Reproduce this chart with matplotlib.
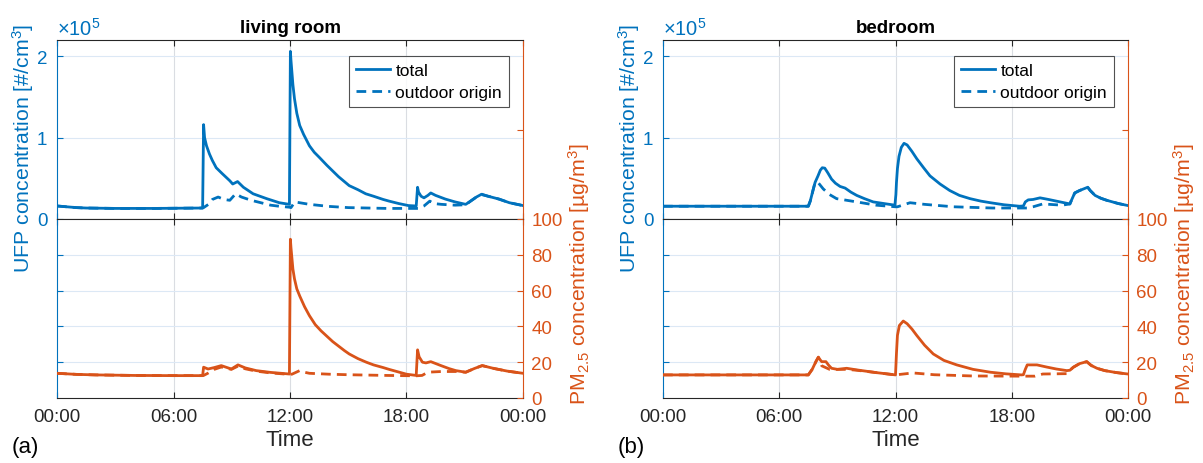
import matplotlib
matplotlib.use('Agg')
import matplotlib.pyplot as plt

plt.rcParams['font.family'] = ['Liberation Sans', 'DejaVu Sans']
plt.rcParams['mathtext.fontset'] = 'custom'
plt.rcParams['mathtext.rm'] = 'Liberation Sans'
plt.rcParams['mathtext.it'] = 'Liberation Sans'

BLUE = '#0072BD'
ORANGE = '#D95319'

# ---- data (hours of day, UFP in #/cm3, PM2.5 in ug/m3) ----
lr_ufp_t = [0, 0.5, 1.0, 1.5, 3, 5, 7.5, 7.55, 7.6, 7.7, 7.85, 8.0, 8.2, 8.5, 8.9, 9.05, 9.3, 9.6,
            10.1, 10.8, 11.45, 11.97, 12.02, 12.05, 12.15, 12.23, 12.35, 12.5, 12.7, 13.0, 13.25,
            13.5, 13.9, 14.2, 14.5, 14.8, 15.05, 15.5, 15.9, 16.3, 16.8, 17.1, 17.6, 18.1, 18.5,
            18.57, 18.62, 18.75, 18.9, 19.1, 19.25, 19.5, 20.0, 20.5, 21.05, 21.3, 21.6, 21.87,
            22.2, 22.76, 23.3, 24]
lr_ufp_total = [16000, 15000, 14000, 13500, 13000, 13000, 13500, 116000, 100000, 90000, 80000,
                72000, 63000, 56000, 47000, 43000, 46000, 39000, 31000, 25000, 20000, 18000,
                206000, 195000, 165000, 148000, 130000, 115000, 104000, 90000, 82000, 76000,
                66000, 59000, 52000, 46000, 41000, 36000, 31000, 28000, 24000, 22000, 19000,
                16500, 16000, 39000, 33000, 28000, 26000, 29000, 32000, 29000, 24500, 21000,
                18000, 22000, 27000, 30500, 28000, 24500, 20000, 16500]
lr_ufp_out_t = [0, 0.5, 1.0, 1.5, 3, 5, 7.5, 7.55, 7.8, 8.0, 8.3, 8.6, 8.9, 9.2, 9.5, 10.0, 10.5,
                11.0, 11.5, 11.97, 12.05, 12.25, 12.5, 13.0, 14.0, 15.0, 16.0, 17.0, 18.6, 18.9,
                19.2, 19.4, 19.8, 20.5, 21.05, 21.3, 21.6, 21.87, 22.2, 22.76, 23.3, 24]
lr_ufp_out = [16000, 15000, 14000, 13500, 13000, 13000, 13500, 14000, 18000, 24000, 27000, 24000,
              23000, 31000, 27000, 23000, 20000, 17000, 15500, 14500, 14000, 21000, 20000, 18000,
              15500, 14000, 13500, 13000, 13000, 16000, 22000, 19000, 18000, 17000, 17500, 22000,
              27000, 30000, 28000, 24500, 20000, 16500]

lr_pm_t = [0, 1, 2, 4, 6, 7.5, 7.55, 7.78, 8.1, 8.46, 8.98, 9.32, 9.7, 10.26, 11.0, 11.97, 12.02,
           12.05, 12.15, 12.23, 12.35, 12.5, 12.75, 13.0, 13.3, 13.6, 13.87, 14.2, 14.5, 14.8,
           15.05, 15.5, 15.93, 16.3, 16.8, 17.1, 17.6, 18.0, 18.5, 18.57, 18.65, 18.82, 19.0,
           19.25, 19.8, 20.2, 20.54, 21.05, 21.5, 21.9, 22.5, 23.2, 24]
lr_pm_total = [13.8, 13.2, 12.9, 12.6, 12.5, 12.5, 17.2, 16.2, 17.0, 18.1, 16.2, 18.5, 16.8, 15.3,
               14.3, 13.4, 88.7, 84.0, 72.0, 66.6, 61.0, 57.0, 51.0, 46.0, 41.0, 37.5, 34.8, 31.5,
               29.0, 26.5, 24.6, 22.0, 20.0, 18.5, 17.0, 16.0, 14.5, 13.3, 12.6, 26.9, 23.0, 20.0,
               19.6, 20.3, 18.0, 16.4, 15.3, 14.4, 16.5, 18.1, 16.5, 15.0, 13.8]
lr_pm_out_t = [0, 1, 2, 4, 6, 7.5, 7.55, 7.8, 8.1, 8.46, 8.98, 9.32, 9.7, 10.26, 11.0, 11.97, 12.1,
               12.5, 12.7, 13.0, 14.0, 15.0, 17.0, 18.5, 18.8, 19.0, 19.25, 19.8, 20.54, 21.05,
               21.5, 21.9, 22.5, 23.2, 24]
lr_pm_out = [13.8, 13.2, 12.9, 12.6, 12.5, 12.5, 12.6, 14.0, 16.0, 17.3, 16.0, 17.8, 16.3, 15.0,
             14.0, 13.2, 13.3, 15.3, 14.5, 13.8, 13.3, 13.0, 12.6, 12.4, 12.6, 13.8, 14.5, 14.8,
             14.8, 14.4, 16.5, 18.1, 16.5, 15.0, 13.8]

br_ufp_t = [0, 7.5, 7.6, 7.75, 7.85, 8.0, 8.12, 8.22, 8.35, 8.5, 8.7, 8.9, 9.14, 9.4, 9.7, 10.0,
            10.4, 10.85, 11.4, 11.97, 12.02, 12.05, 12.1, 12.18, 12.3, 12.44, 12.6, 12.85, 13.1,
            13.45, 13.78, 14.3, 14.8, 15.3, 15.85, 16.4, 16.9, 17.6, 18.4, 18.6, 18.7, 18.85,
            19.1, 19.46, 19.9, 20.5, 21.0, 21.1, 21.25, 21.5, 21.92, 22.05, 22.3, 22.6, 22.9,
            23.5, 24]
br_ufp_total = [15700, 15700, 22000, 36000, 45000, 53000, 60000, 63000, 62500, 57000, 49000,
                44000, 40000, 38000, 33000, 29000, 25000, 21000, 19000, 17000, 30000, 45000,
                62000, 77000, 88000, 93000, 91000, 83000, 74000, 63000, 53000, 43000, 35000,
                29000, 25000, 22000, 20000, 17500, 15700, 16000, 21000, 23500, 24000, 26000,
                24000, 21000, 18500, 24000, 32000, 35000, 39000, 35000, 29000, 25500, 23000,
                19000, 16500]
br_ufp_out_t = [0, 7.5, 7.6, 7.75, 7.85, 8.0, 8.27, 8.6, 8.96, 10.0, 11.0, 12.0, 12.1, 12.75,
                13.5, 15.0, 17.0, 18.8, 19.1, 19.6, 20.6, 21.0, 21.1, 21.25, 21.5, 21.92, 22.05,
                22.3, 22.6, 22.9, 23.5, 24]
br_ufp_out = [15700, 15700, 22000, 36000, 45000, 45000, 37000, 30000, 25000, 21000, 17000, 15000,
              15000, 20000, 18000, 15000, 13500, 13500, 15000, 18500, 17000, 18500, 24000, 32000,
              35000, 39000, 35000, 29000, 25500, 23000, 19000, 16500]

br_pm_t = [0, 7.5, 7.7, 7.9, 8.02, 8.1, 8.19, 8.41, 8.55, 8.7, 9.0, 9.48, 10.0, 11.0, 12.0, 12.05,
           12.1, 12.2, 12.4, 12.6, 12.85, 13.1, 13.5, 13.95, 14.5, 15.16, 16.0, 16.9, 17.7, 18.5,
           18.6, 18.7, 18.8, 19.3, 19.8, 20.3, 20.84, 21.0, 21.18, 21.5, 21.87, 22.1, 22.4, 22.8,
           23.4, 24]
br_pm_total = [12.9, 12.9, 16.0, 20.5, 22.8, 21.5, 20.3, 20.3, 18.3, 16.6, 16.0, 16.6, 15.7, 14.2,
               12.9, 25.0, 35.0, 40.5, 43.0, 41.5, 38.5, 34.9, 29.5, 24.6, 21.0, 18.5, 16.0, 14.4,
               13.5, 12.9, 13.0, 16.0, 18.5, 18.5, 17.3, 16.2, 15.3, 15.5, 17.2, 19.2, 20.3, 18.2,
               16.6, 15.3, 14.2, 13.4]
br_pm_out_t = [0, 7.5, 7.7, 7.9, 8.02, 8.19, 8.6, 9.48, 10.0, 12.0, 12.9, 14.0, 16.0, 18.7, 19.2,
               19.6, 20.84, 21.0, 21.18, 21.5, 21.87, 22.1, 22.4, 22.8, 23.4, 24]
br_pm_out = [12.9, 12.9, 16.0, 20.5, 22.8, 18.0, 16.0, 16.0, 15.5, 12.9, 14.0, 13.0, 12.3, 12.2,
             12.2, 13.4, 13.6, 15.5, 17.2, 19.2, 20.3, 18.2, 16.6, 15.3, 14.2, 13.4]

hour_ticks = [0, 6, 12, 18, 24]
hour_labels = ['00:00', '06:00', '12:00', '18:00', '00:00']
ufp_ticks = [0, 100000, 200000]
ufp_labels = ['0', '1', '2']
pm_ticks = [0, 20, 40, 60, 80, 100]

W, H = 1203, 464
fig = plt.figure(figsize=(W / 100, H / 100), dpi=100)

HGRID = '#dce8f5'
VGRID = '#dadde2'
TXT = '#262626'
DASH = (0, (3.5, 2.2))


def px(x0, y0, w, h):
    return [x0 / W, 1 - (y0 + h) / H, w / W, h / H]


def panel(x0, x1, title, tag, ufp_total, ufp_out, pm_total, pm_out):
    w = x1 - x0
    ax_t = fig.add_axes(px(x0, 41, w, 179))
    ax_b = fig.add_axes(px(x0, 220, w, 179))

    for ax in (ax_t, ax_b):
        ax.set_xlim(0, 24)
        ax.set_xticks(hour_ticks)
        for x in hour_ticks[1:-1]:
            ax.axvline(x, color=VGRID, lw=0.8, zorder=0)
        ax.tick_params(axis='x', direction='in', top=True, bottom=True, length=4,
                       width=0.8, colors=TXT, labelsize=13.5, pad=7)
        ax.spines['top'].set_color('#262626')
        ax.spines['bottom'].set_color('#262626')
        ax.spines['left'].set_color(BLUE)
        ax.spines['right'].set_color(ORANGE)
        for s in ax.spines.values():
            s.set_linewidth(0.8)
    ax_t.set_xticklabels([])
    ax_b.set_xticklabels(hour_labels)

    # top: UFP
    ax_t.set_ylim(0, 220000)
    ax_t.set_yticks(ufp_ticks)
    ax_t.set_yticklabels(ufp_labels)
    ax_t.tick_params(axis='y', direction='in', length=4, width=0.8, colors=BLUE,
                     labelsize=13.5, pad=7, left=True, right=False)
    for y in ufp_ticks[1:]:
        ax_t.axhline(y, color=HGRID, lw=0.8, zorder=0)
    ax_t.plot(*ufp_total, color=BLUE, lw=2, solid_joinstyle='round', label='total')
    ax_t.plot(*ufp_out, color=BLUE, lw=2, ls=DASH, dash_joinstyle='round',
              label='outdoor origin')
    tr = ax_t.twinx()
    tr.set_ylim(0, 1)
    tr.set_yticks([0.5])
    tr.set_yticklabels([])
    tr.tick_params(axis='y', direction='in', length=4, width=0.8, colors=ORANGE)
    for s in tr.spines.values():
        s.set_visible(False)
    leg = ax_t.legend(loc='upper right', bbox_to_anchor=(1 - 14 / w, 1 - 16 / 179),
                      borderaxespad=0, fontsize=12.5, frameon=True, fancybox=False,
                      edgecolor='#262626', handlelength=2.0, handletextpad=0.3,
                      borderpad=0.4, labelspacing=0.4)
    leg.get_frame().set_linewidth(0.8)
    ax_t.text(0.0, 1.005, r'$\times10^{5}$', transform=ax_t.transAxes, color=BLUE,
              fontsize=14.5, ha='left', va='bottom')
    ax_t.set_title(title, fontsize=13.5, fontweight='bold', pad=6, color='black')

    # bottom: PM2.5 on right axis
    ax_b.set_ylim(0, 1)
    ax_b.set_yticks([0.2, 0.4, 0.6, 0.8])
    ax_b.set_yticklabels([])
    ax_b.tick_params(axis='y', direction='in', length=4, width=0.8, colors=BLUE,
                     left=True, right=False)
    for y in [0.2, 0.4, 0.6, 0.8]:
        ax_b.axhline(y, color=HGRID, lw=0.8, zorder=0)
    br = ax_b.twinx()
    br.set_ylim(0, 100)
    br.set_yticks(pm_ticks)
    br.tick_params(axis='y', direction='in', length=4, width=0.8, colors=ORANGE,
                   labelsize=13.5, pad=6)
    for s in br.spines.values():
        s.set_visible(False)
    br.plot(*pm_total, color=ORANGE, lw=2, solid_joinstyle='round')
    br.plot(*pm_out, color=ORANGE, lw=2, ls=DASH, dash_joinstyle='round')
    ax_b.set_xlabel('Time', fontsize=16, color=TXT, labelpad=3)

    fig.text((x0 - 34) / W, 1 - 148 / H, 'UFP concentration [#/cm$^3$]', rotation=90,
             color=BLUE, fontsize=15.3, ha='center', va='center')
    fig.text((x1 + 56) / W, 1 - 274 / H, 'PM$_{2.5}$ concentration [µg/m$^3$]', rotation=90,
             color=ORANGE, fontsize=15.3, ha='center', va='center')
    fig.text((x0 - 45) / W, 1 - 448 / H, tag, fontsize=16, color='black',
             ha='left', va='center')


panel(57, 523, 'living room', '(a)', (lr_ufp_t, lr_ufp_total), (lr_ufp_out_t, lr_ufp_out),
      (lr_pm_t, lr_pm_total), (lr_pm_out_t, lr_pm_out))
panel(663, 1128, 'bedroom', '(b)', (br_ufp_t, br_ufp_total), (br_ufp_out_t, br_ufp_out),
      (br_pm_t, br_pm_total), (br_pm_out_t, br_pm_out))

fig.savefig('out.png', dpi=100)
